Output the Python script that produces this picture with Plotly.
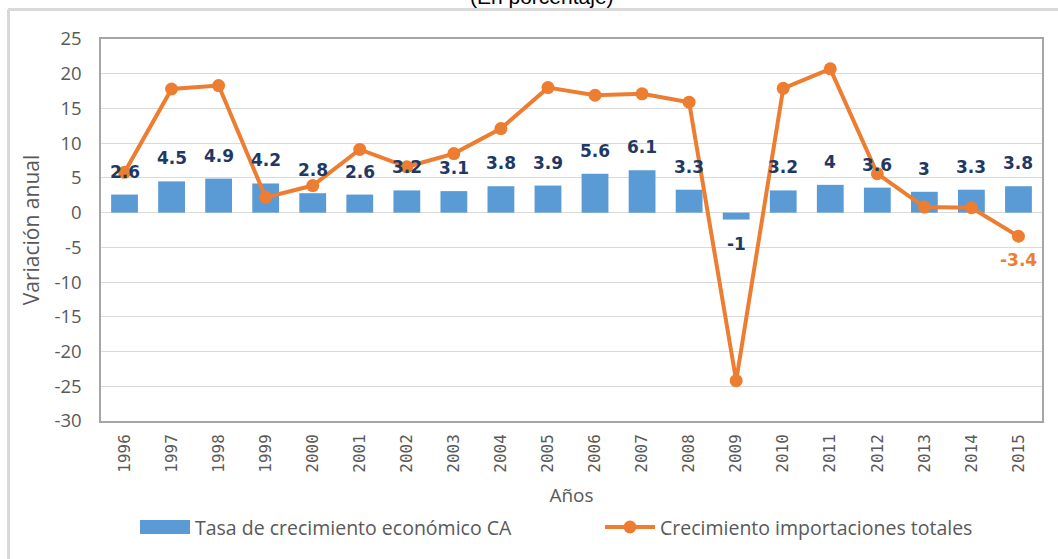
import plotly.graph_objects as go

# Annual series, 1996-2015
years = [str(y) for y in range(1996, 2016)]
crecimiento_ca = [2.6, 4.5, 4.9, 4.2, 2.8, 2.6, 3.2, 3.1, 3.8, 3.9,
                  5.6, 6.1, 3.3, -1, 3.2, 4, 3.6, 3, 3.3, 3.8]
importaciones = [5.8, 17.8, 18.3, 2.2, 3.9, 9.1, 6.6, 8.5, 12.1, 18.0,
                 16.9, 17.1, 15.9, -24.2, 17.9, 20.7, 5.6, 0.8, 0.7, -3.4]
y_ticks = list(range(-30, 30, 5))
y_tick_labels = [str(v) for v in y_ticks]
series_names = ["Tasa de crecimiento económico CA", "Crecimiento importaciones totales"]

BLUE = "#5B9BD5"
ORANGE = "#ED7D31"
NAVY = "#1F3864"
GRAY_TXT = "#595959"
LABEL_FONT = "DejaVu Sans"

fig = go.Figure()

fig.add_trace(go.Bar(
    x=years, y=crecimiento_ca,
    name=series_names[0],
    marker=dict(color=BLUE, line=dict(width=0)),
    width=0.57,
    showlegend=False,
))

fig.add_trace(go.Scatter(
    x=years, y=importaciones,
    name=series_names[1],
    mode="lines+markers",
    line=dict(color=ORANGE, width=4),
    marker=dict(color=ORANGE, size=13),
    showlegend=False,
))

# value labels on the bars: above positive bars, below negative ones
# (category axis: annotations are placed by category index)
for i, v in enumerate(crecimiento_ca):
    fig.add_annotation(
        x=i, y=v, xref="x", yref="y",
        text=f"{v:g}", showarrow=False,
        yshift=23 if v >= 0 else -24,
        font=dict(family=LABEL_FONT, size=17, color=NAVY, weight="bold"),
    )

# the last import value carries its own label, below the marker
fig.add_annotation(
    x=len(years) - 1, y=importaciones[-1], xref="x", yref="y",
    text=f"{importaciones[-1]:g}", showarrow=False, yshift=-24,
    font=dict(family=LABEL_FONT, size=17, color=ORANGE, weight="bold"),
)

# subtitle sitting at the very top edge
fig.add_annotation(
    x=0.469, y=1.11, xref="paper", yref="paper",
    text="(En porcentaje)", showarrow=False,
    xanchor="center", yanchor="middle",
    font=dict(family="Liberation Sans", size=21, color="#000000"),
)

# legend drawn by hand below the axis title (wide bar swatch, line+dot swatch)
PLOT_L, PLOT_W, PLOT_B, PLOT_H = 101, 941, 421, 382


def px(xp):
    return (xp - PLOT_L) / PLOT_W


def py(yp):
    return (PLOT_B - yp) / PLOT_H


LEG_Y = 527
fig.add_shape(type="rect", xref="paper", yref="paper",
              x0=px(140), x1=px(190), y0=py(LEG_Y - 7), y1=py(LEG_Y + 7),
              fillcolor=BLUE, line=dict(width=0))
fig.add_shape(type="line", xref="paper", yref="paper",
              x0=px(605), x1=px(655), y0=py(LEG_Y), y1=py(LEG_Y),
              line=dict(color=ORANGE, width=4))
fig.add_shape(type="circle", xref="paper", yref="paper",
              x0=px(623.5), x1=px(636.5), y0=py(LEG_Y - 6.5), y1=py(LEG_Y + 6.5),
              fillcolor=ORANGE, line=dict(width=0))
for name, x_text in zip(series_names, [193, 658]):
    fig.add_annotation(
        x=px(x_text), y=py(LEG_Y), xref="paper", yref="paper",
        text=name, showarrow=False, xanchor="left", yanchor="middle",
        font=dict(family="Open Sans", size=19.5, color=GRAY_TXT),
    )

fig.update_layout(
    width=1058, height=559,
    margin=dict(l=101, r=16, t=39, b=138, autoexpand=False),
    paper_bgcolor="white",
    plot_bgcolor="white",
    showlegend=False,
    xaxis=dict(
        type="category",
        range=[-0.5, 19.5],
        tickangle=-90,
        tickfont=dict(family="DejaVu Sans Mono", size=16, color=GRAY_TXT),
        ticklabelstandoff=5,
        showline=True, linecolor="#A6A6A6", linewidth=1.5, mirror=True,
        showgrid=False,
        ticks="",
        title=dict(text="Años", font=dict(family="Open Sans", size=19, color=GRAY_TXT),
                   standoff=17),
    ),
    yaxis=dict(
        range=[-30, 25],
        tickvals=y_ticks,
        ticktext=y_tick_labels,
        tickfont=dict(family="Open Sans", size=18.5, color=GRAY_TXT),
        ticklabelstandoff=14,
        showgrid=True, gridcolor="#D9D9D9", gridwidth=1,
        zeroline=True, zerolinecolor="#D9D9D9", zerolinewidth=1,
        showline=True, linecolor="#A6A6A6", linewidth=1.5, mirror=True,
        ticks="",
        title=dict(text="Variación anual", font=dict(family="Open Sans", size=21, color=GRAY_TXT),
                   standoff=9),
    ),
    font=dict(family="Open Sans"),
)

# outer frame of the chart area (top and left edges)
fig.add_shape(type="line", xref="paper", yref="paper",
              x0=px(8), x1=px(1060), y0=py(9.5), y1=py(9.5),
              line=dict(color="#D9D9D9", width=3))
fig.add_shape(type="line", xref="paper", yref="paper",
              x0=px(8.5), x1=px(8.5), y0=py(9.5), y1=py(562),
              line=dict(color="#D9D9D9", width=3))

fig.write_html("out.html")
